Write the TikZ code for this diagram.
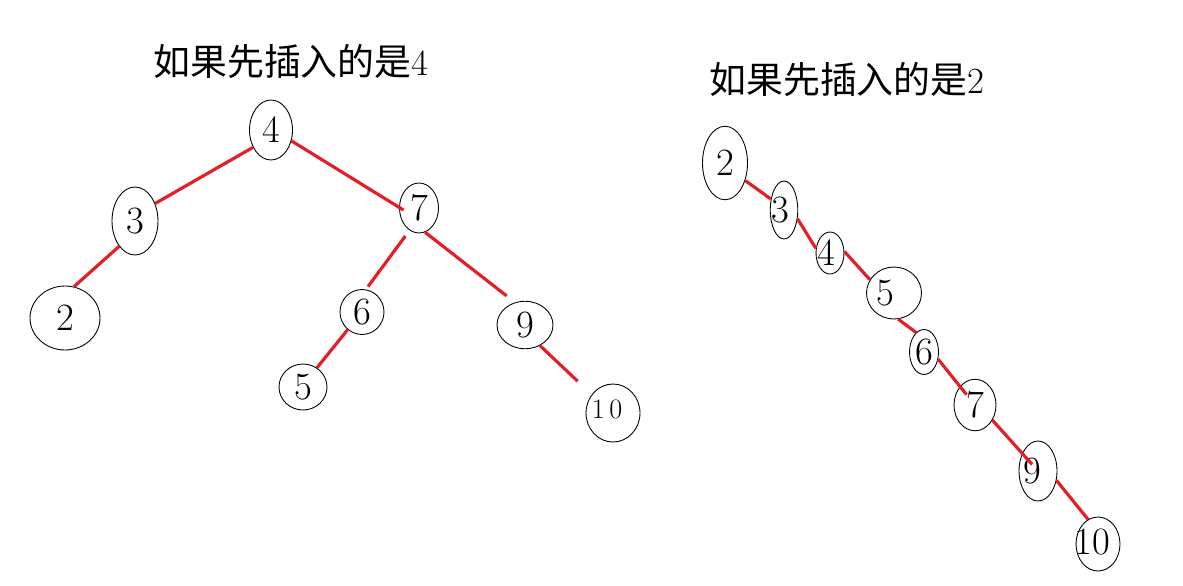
\documentclass[tikz,border=0pt]{standalone}
\usepackage{fontspec}
\newfontfamily\cjk{Noto Sans CJK SC}
\usepackage{tikz}
\usetikzlibrary{shapes.geometric}

\definecolor{edgered}{RGB}{228,30,38}
% number kept out of the node size, so the ellipse is set by its own width and height
\newcommand{\nv}[2][0pt]{\raisebox{-.33em}[0pt][0pt]{\makebox[0pt]{\hspace{#1}#2\hspace{-#1}}}}

\begin{document}
\begin{tikzpicture}[x=0.02cm, y=-0.02cm,
    tn/.style={ellipse, draw, line width=0.5pt, inner sep=0pt, font=\fontsize{22}{26}\selectfont},
    edge/.style={edgered, line width=1.8pt},
    title/.style={font=\fontsize{21}{25}\selectfont}]
    \useasboundingbox (0,0) rectangle (1183,585);

    % Titles
    \node[title] (tl) at (291,61) {{\cjk 如果先插入的是}4};
    \node[title] (tr) at (847,79) {{\cjk 如果先插入的是}2};

    % Left tree
    \node[tn, minimum width=0.86cm, minimum height=1.2cm] (l4) at (271,130) {\nv{4}};
    \node[tn, minimum width=0.92cm, minimum height=1.36cm] (l3) at (135,221) {\nv{3}};
    \node[tn, minimum width=0.78cm, minimum height=1.0cm] (l7) at (419,208) {\nv{7}};
    \node[tn, minimum width=1.4cm, minimum height=1.28cm] (l2) at (65,318) {\nv{2}};
    \node[tn, minimum width=0.88cm, minimum height=0.9cm] (l6) at (362,312) {\nv{6}};
    \node[tn, minimum width=1.12cm, minimum height=0.95cm] (l9) at (525,325) {\nv{9}};
    \node[tn, minimum width=0.96cm, minimum height=0.92cm] (l5) at (303,387) {\nv{5}};
    \node[tn, minimum width=1.08cm, minimum height=1.16cm, font=\fontsize{16}{19}\selectfont] (l10) at (613,413) {\raisebox{4.5pt}{\nv[-3.4pt]{1\,0}}};

    \draw[edge] (l4.224) -- (l3.41);
    \draw[edge, shorten >=-3pt] (l4.-28) -- (l7.178);
    \draw[edge] (l3.238) -- (l2.74);
    \draw[edge, shorten <=4pt, shorten >=2pt] (l7.247) -- (l6.80);
    \draw[edge, shorten >=6pt] (l7.-76) -- (l9.114);
    \draw[edge] (l6.231) -- (l5.54);
    \draw[edge, shorten >=11pt] (l9.-54) -- (l10.139);

    % Right tree
    \node[tn, minimum width=0.9cm, minimum height=1.47cm] (r2) at (725,163) {\nv{2}};
    \node[tn, minimum width=0.55cm, minimum height=1.16cm] (r3) at (784,210) {\nv[-2.3pt]{3}};
    \node[tn, minimum width=0.56cm, minimum height=0.84cm] (r4) at (830,253) {\nv[-2.3pt]{4}};
    \node[tn, minimum width=1.1cm, minimum height=1.04cm] (r5) at (894,293) {\nv[-5pt]{5}};
    \node[tn, minimum width=0.58cm, minimum height=0.9cm] (r6) at (924,352) {\nv{6}};
    \node[tn, minimum width=0.84cm, minimum height=1.03cm] (r7) at (975,405) {\nv{7}};
    \node[tn, minimum width=0.76cm, minimum height=1.2cm] (r9) at (1038,471) {\nv[-3.4pt]{9}};
    \node[tn, minimum width=0.88cm, minimum height=1.08cm] (r10) at (1098,544) {\raisebox{3pt}{\nv[-3.4pt]{10}}};

    \draw[edge] (r2.-41) -- (r3.140);
    \draw[edge] (r3.-33) -- (r4.162);
    \draw[edge] (r4.6) -- (r5.151);
    \draw[edge] (r5.-81) -- (r6.112);
    \draw[edge, shorten >=-6pt] (r6.-27) -- (r7.129);
    \draw[edge, shorten >=5pt] (r7.-41) -- (r9.center);
    \draw[edge] (r9.-27) -- (r10.112);
\end{tikzpicture}
\end{document}
